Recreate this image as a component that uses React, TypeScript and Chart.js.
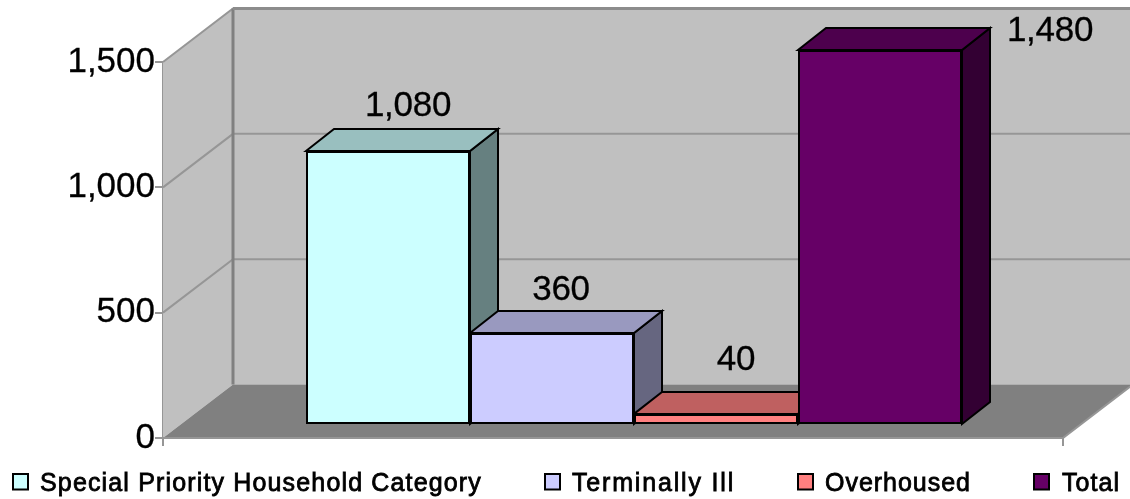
import React, { useEffect, useRef } from "react";
import { Chart, registerables } from "chart.js";

Chart.register(...registerables);

const seriesNames = ["Special Priority Household Category", "Terminally Ill", "Overhoused", "Total"];
const seriesValues = [1080, 360, 40, 1480];
const valueLabels = ["1,080", "360", "40", "1,480"];
const frontColors = ["#CCFFFF", "#CCCCFF", "#FF8080", "#660066"];
const topColors = ["#99BFBF", "#9999BF", "#BF6060", "#4D004D"];
const sideColors = ["#668080", "#666680", "#804040", "#330033"];
const axisTicks = [0, 500, 1000, 1500];

const WIDTH = 1130;
const HEIGHT = 499;
const FONT = '"Liberation Sans", Arial, sans-serif';

const wall3d = {
  id: "wall3d",
  beforeDatasetsDraw(chart: any) {
    const { ctx } = chart;
    const y = chart.scales.y;
    const left = chart.chartArea.left;
    const dx = 70;
    const dy = 53.5;
    const floorW = 900;
    const y0 = y.getPixelForValue(0);
    const yMax = y.getPixelForValue(1500);
    const poly = (pts: number[][], fill: string | null, stroke?: string, lw = 2) => {
      ctx.beginPath();
      pts.forEach((p, i) => (i ? ctx.lineTo(p[0], p[1]) : ctx.moveTo(p[0], p[1])));
      ctx.closePath();
      if (fill) { ctx.fillStyle = fill; ctx.fill(); }
      if (stroke) { ctx.strokeStyle = stroke; ctx.lineWidth = lw; ctx.stroke(); }
    };
    const line = (pts: number[][], stroke: string, lw = 2) => {
      ctx.beginPath();
      pts.forEach((p, i) => (i ? ctx.lineTo(p[0], p[1]) : ctx.moveTo(p[0], p[1])));
      ctx.strokeStyle = stroke; ctx.lineWidth = lw; ctx.stroke();
    };
    ctx.save();
    // walls
    poly([[left + dx, yMax - dy], [left + floorW + dx, yMax - dy], [left + floorW + dx, y0 - dy], [left + dx, y0 - dy]], "#C0C0C0");
    poly([[left, yMax], [left + dx, yMax - dy], [left + dx, y0 - dy], [left, y0]], "#C0C0C0");
    // floor
    poly([[left, y0], [left + dx, y0 - dy], [left + floorW + dx, y0 - dy], [left + floorW, y0]], "#808080");
    // gridlines
    axisTicks.slice(1).forEach((v) => {
      const py = y.getPixelForValue(v);
      line([[left, py], [left + dx, py - dy], [left + floorW + dx, py - dy]], "#969696", 2);
    });
    line([[left + dx, yMax - dy], [left + dx, y0 - dy]], "#808080", 3);
    line([[left + dx, yMax - dy], [left + floorW + dx, yMax - dy]], "#8C8C8C", 3);
    line([[left, y0], [left + floorW, y0], [left + floorW + dx, y0 - dy]], "#969696", 2);
    line([[left, y0], [left, y0 + 8]], "#969696", 2);
    line([[left + floorW, y0], [left + floorW, y0 + 8]], "#969696", 2);
    // bar top and side faces, left to right
    const bx = 28;
    const by = 22;
    chart.data.datasets.forEach((_: any, i: number) => {
      const bar = chart.getDatasetMeta(i).data[0] as any;
      const l = bar.x - bar.width / 2;
      const r = bar.x + bar.width / 2;
      const t = bar.y;
      const b = bar.base;
      poly([[r, t], [r + bx, t - by], [r + bx, b - by], [r, b]], sideColors[i], "#000", 2);
      poly([[l, t], [l + bx, t - by], [r + bx, t - by], [r, t]], topColors[i], "#000", 2);
    });
    ctx.restore();
  },
};

const labelOffsets = [[20, -44.5], [9, -42.5], [20, -53.5], [170, -19]];

const valueText = {
  id: "valueText",
  afterDatasetsDraw(chart: any) {
    const { ctx } = chart;
    ctx.save();
    ctx.font = `35px ${FONT}`;
    (ctx as any).letterSpacing = "-0.3px";
    ctx.fillStyle = "#000";
    ctx.strokeStyle = "#000";
    ctx.lineWidth = 0.3;
    ctx.textAlign = "center";
    ctx.textBaseline = "middle";
    chart.data.datasets.forEach((_: any, i: number) => {
      const bar = chart.getDatasetMeta(i).data[0] as any;
      const px = bar.x + labelOffsets[i][0];
      const py = bar.y + labelOffsets[i][1];
      ctx.fillText(valueLabels[i], px, py);
      ctx.strokeText(valueLabels[i], px, py);
    });
    ctx.restore();
  },
};

const legendStarts = [12, 544, 797, 1033];
const legendTextWidths = [442, 163, 146, 58];

const legendRow = {
  id: "legendRow",
  afterDraw(chart: any) {
    const { ctx } = chart;
    ctx.save();
    ctx.font = `25px ${FONT}`;
    ctx.textBaseline = "alphabetic";
    ctx.textAlign = "left";
    chart.data.datasets.forEach((ds: any, i: number) => {
      const x = legendStarts[i];
      (ctx as any).letterSpacing = "0px";
      const natural = ctx.measureText(ds.label).width;
      (ctx as any).letterSpacing = `${(legendTextWidths[i] - natural) / ds.label.length}px`;
      ctx.fillStyle = ds.backgroundColor;
      ctx.fillRect(x + 1, 474, 15, 15.5);
      ctx.strokeStyle = "#000";
      ctx.lineWidth = 2;
      ctx.strokeRect(x + 1, 474, 15, 15.5);
      ctx.fillStyle = "#000";
      ctx.fillText(ds.label, x + (i === 3 ? 29 : 28), 491);
      ctx.lineWidth = 0.8;
      ctx.strokeText(ds.label, x + (i === 3 ? 29 : 28), 491);
    });
    ctx.restore();
  },
};

export default function App() {
  const ref = useRef<HTMLCanvasElement | null>(null);
  useEffect(() => {
    document.body.style.margin = "0";
    const chart = new Chart(ref.current as HTMLCanvasElement, {
      type: "bar",
      data: {
        labels: [""],
        datasets: seriesNames.map((name, i) => ({
          label: name,
          data: [seriesValues[i]],
          backgroundColor: frontColors[i],
          borderColor: "#000",
          borderWidth: 2,
          borderSkipped: false,
          yAxisID: "yBars",
          clip: false as any,
        })),
      },
      options: {
        responsive: false,
        animation: false,
        layout: { padding: { left: 0, right: 25, top: 62, bottom: 61 } },
        datasets: { bar: { barPercentage: 1, categoryPercentage: 656 / 942 } },
        plugins: { legend: { display: false }, tooltip: { enabled: false } },
        scales: {
          x: { display: false },
          y: {
            position: "left",
            min: 0,
            max: 1500,
            afterFit: (s: any) => { s.width = 163; },
            afterBuildTicks: (s: any) => { s.ticks = axisTicks.map((value) => ({ value })); },
            border: { color: "#969696", width: 2 },
            grid: { drawOnChartArea: false, color: "#969696", tickColor: "#969696", tickLength: 8, lineWidth: 2 },
            ticks: {
              color: "#000",
              padding: 0,
              labelOffset: 0,
              textStrokeColor: "#000",
              textStrokeWidth: 0.3,
              font: { family: FONT, size: 35 },
              callback: (v: any) => Number(v).toLocaleString("en-US"),
            },
          },
          yBars: {
            display: false,
            min: -55.4,
            max: 1432.5,
          },
        },
      } as any,
      plugins: [wall3d, valueText, legendRow],
    });
    return () => chart.destroy();
  }, []);
  return <canvas ref={ref} width={WIDTH} height={HEIGHT} style={{ display: "block" }} />;
}
